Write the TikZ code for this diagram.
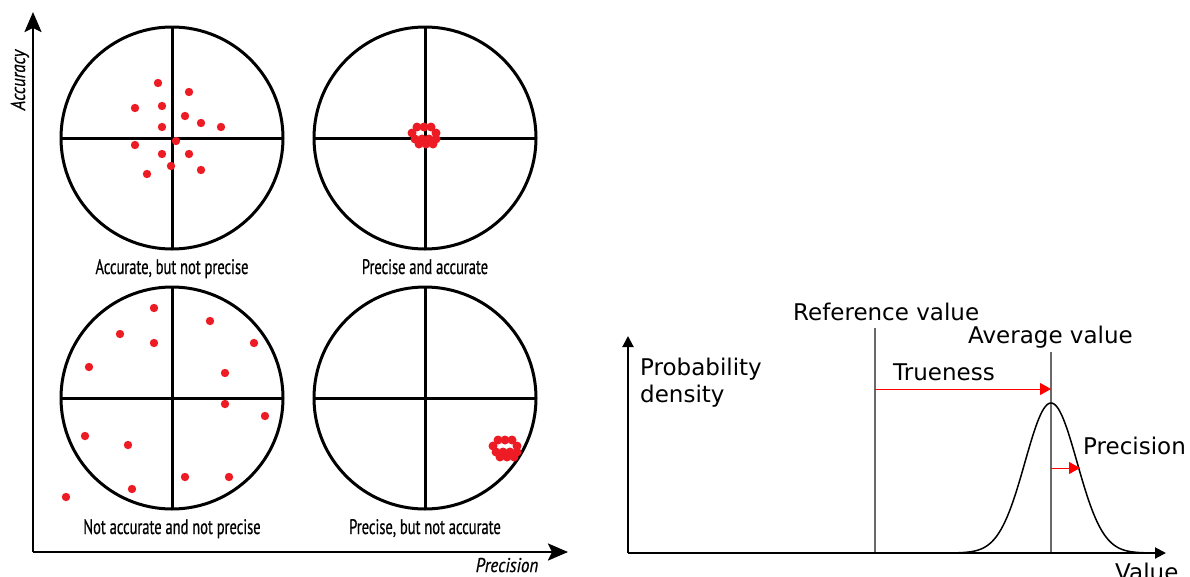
\documentclass[tikz,border=0pt]{standalone}
\usepackage{fontspec}
\usetikzlibrary{arrows.meta}
\newfontfamily\condfont[FakeStretch=0.69,FakeBold=0.6]{PT Sans}
\newfontfamily\condital[FakeStretch=0.85,FakeBold=0.6]{PT Sans}
\newfontfamily\dvfont{DejaVu Sans}
\definecolor{dotred}{RGB}{237,28,36}
\definecolor{refgray}{RGB}{105,105,105}
\begin{document}
\begin{tikzpicture}[x=1pt,y=-1pt,
  target/.style={circle,draw=black,line width=3pt,fill=white,minimum size=222pt,inner sep=0pt,outer sep=0pt},
  cross/.style={line width=3pt},
  hit/.style={fill=dotred},
  bigaxis/.style={line width=2.5pt,-{Stealth[length=20pt,width=17pt,inset=4pt]}},
  caption/.style={font=\condfont\fontsize{21}{24}\selectfont,inner sep=0pt,anchor=base},
  axlabel/.style={font=\condital\itshape\fontsize{20}{24}\selectfont,inner sep=0pt,anchor=base},
  dvlabel/.style={font=\dvfont\fontsize{23}{27}\selectfont,inner sep=0pt},
  smallaxis/.style={line width=2pt,-{Triangle[length=11pt,width=11pt]}},
  valueline/.style={line width=1.5pt,draw=refgray},
  redarrow/.style={draw=red,line width=1pt,-{Triangle[length=11pt,width=12pt]}},
  ]
\useasboundingbox (0,0) rectangle (1190,576);

% ---------- left: targets ----------
\coordinate (O) at (33,552);
\coordinate (ytip) at (33,12);
\coordinate (xtip) at (568,552);
\draw[bigaxis] (O) -- (ytip);
\draw[bigaxis] (O) -- (xtip);
\node[axlabel,rotate=90] (acc) at (25,80) {Accuracy};
\node[axlabel] (prec) at (507,572) {Precision};

\foreach \name/\cx/\cy in {t1/172/138, t2/425/138, t3/172/398, t4/425/398}{
  \node[target] (\name) at (\cx,\cy) {};
  \draw[cross] (\name.north) -- (\name.south);
  \draw[cross] (\name.west) -- (\name.east);
}

% circle 1 hits
\foreach \px/\py in {158/83,189/92,135/108,162/106,185/116,201/123,221/127,162/127,
                     135/145,176/141,162/154,189/154,171/166,201/170,147/174}{
  \fill[hit] (\px,\py) circle (4.2);
}
% circle 3 hits
\foreach \px/\py in {154/308,120/334,154/343,89/367,210/321,254/343,225/373,225/404,
                     265/416,85/436,128/445,132/489,66/497,185/477,229/477}{
  \fill[hit] (\px,\py) circle (4.2);
}
% circle 2 and 4 clusters
\foreach \sx/\sy in {0/0, 81/313}{
  \begin{scope}[shift={(\sx,\sy)}]
    \foreach \px/\py in {417/127,424/127,431/127,412/133,436/133,
                         415/139,422/139,429/139,436/139,419/144,426/144,433/144}{
      \fill[hit] (\px,\py) circle (4.5);
    }
  \end{scope}
}

\node[caption] (c1) at (172,274) {Accurate, but not precise};
\node[caption] (c2) at (425,274) {Precise and accurate};
\node[caption] (c3) at (172,534) {Not accurate and not precise};
\node[caption] (c4) at (425,534) {Precise, but not accurate};

% ---------- right: distribution ----------
\coordinate (O2) at (628,553);
\coordinate (y2tip) at (628,336);
\coordinate (x2tip) at (1166,553);
\coordinate (refTop) at (875,328);
\coordinate (refBot) at (875,553);
\coordinate (avgTop) at (1051,352);
\coordinate (avgBot) at (1051,553);
\coordinate (trueStart) at (875,389);
\coordinate (trueEnd) at (1051,389);
\coordinate (precStart) at (1051,468);
\coordinate (precEnd) at (1080,468);

\draw[valueline] (refTop) -- (refBot);
\draw[valueline] (avgTop) -- (avgBot);
\draw[line width=1.5pt] plot[domain=955:1147,samples=120] (\x,{553-150*exp(-((\x-1051)^2)/1352)});
\draw[smallaxis] (O2) -- (y2tip);
\draw[smallaxis] (O2) -- (x2tip);
\draw[redarrow] (trueStart) -- (trueEnd);
\draw[redarrow] (precStart) -- (precEnd);

\node[dvlabel,anchor=base west] (refl) at (793,320) {Reference value};
\node[dvlabel,anchor=base west] (avgl) at (968,343) {Average value};
\node[dvlabel,anchor=base west] (truel) at (893,380) {Trueness};
\node[dvlabel,anchor=base west] (precl) at (1083,454) {Precision};
\node[dvlabel,anchor=base west] (vall) at (1115,580) {Value};
\node[dvlabel,anchor=north west,align=left] (probl) at (640,358) {Probability\\density};
\end{tikzpicture}
\end{document}
